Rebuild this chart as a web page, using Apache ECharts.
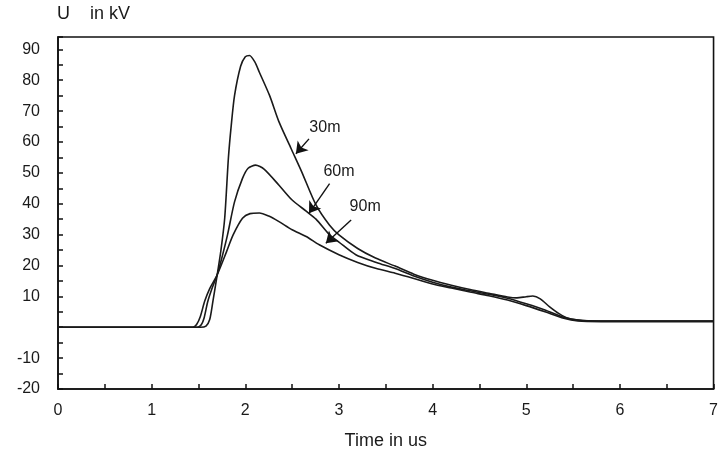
<!DOCTYPE html>
<html>
<head>
<meta charset="utf-8">
<script src="https://cdn.jsdelivr.net/npm/echarts@6/dist/echarts.min.js"></script>
<style>
html, body { margin: 0; padding: 0; background: #fff; }
#main { width: 721px; height: 461px; }
</style>
</head>
<body>
<div id="main"></div>
<script>
// 电压波形 (30m / 60m / 90m), [time us, U kV]
var wave30m = [
	[0, 0], [1.52, 0], [1.58, 0.4], [1.62, 2.5], [1.654, 8.4], [1.7, 17], [1.74, 25], [1.78, 35.3],
	[1.82, 55], [1.85, 65.4], [1.885, 75], [1.95, 84.5], [2.0, 87.6], [2.045, 88], [2.1, 86],
	[2.15, 82.6], [2.26, 75], [2.36, 66.5], [2.49, 57.8], [2.6, 50.5], [2.755, 39.6], [2.9, 33],
	[3.0, 29.9], [3.2, 25.5], [3.39, 22.4], [3.6, 19.8], [3.8, 17.2], [4.0, 15.2], [4.2, 13.6],
	[4.4, 12.2], [4.6, 11], [4.8, 9.8], [4.9, 9.5], [5.0, 9.9], [5.07, 10.1], [5.15, 9.2],
	[5.25, 6.6], [5.35, 4.4], [5.45, 2.9], [5.6, 2.2], [5.8, 2], [7, 2]
];
var wave60m = [
	[0, 0], [1.49, 0], [1.53, 0.8], [1.56, 3], [1.6, 8.4], [1.65, 13], [1.7, 17], [1.75, 22.5],
	[1.81, 29.9], [1.885, 40.6], [1.97, 48.2], [2.03, 51.5], [2.11, 52.5], [2.2, 51.2],
	[2.36, 46], [2.5, 41.2], [2.65, 37.6], [2.755, 35], [2.9, 29.9], [3.0, 27.6], [3.18, 23.5],
	[3.4, 21], [3.6, 19], [3.8, 16.6], [4.0, 14.6], [4.2, 13], [4.4, 11.8], [4.6, 10.7],
	[4.8, 9.4], [5.0, 7.6], [5.2, 5.6], [5.4, 3.2], [5.55, 2.3], [5.8, 2], [7, 2]
];
var wave90m = [
	[0, 0], [1.44, 0], [1.48, 0.9], [1.52, 3.5], [1.566, 8.4], [1.62, 12.5], [1.7, 17],
	[1.8, 24.5], [1.87, 29.9], [1.97, 35.3], [2.05, 36.8], [2.15, 37], [2.25, 36], [2.36, 34.2],
	[2.5, 31.6], [2.65, 29.4], [2.79, 26.7], [3.0, 23.5], [3.2, 21], [3.4, 19], [3.6, 17.5],
	[3.8, 15.8], [4.0, 14], [4.2, 12.7], [4.4, 11.4], [4.6, 10.2], [4.8, 8.8], [5.0, 7],
	[5.2, 5], [5.4, 2.9], [5.55, 2], [5.8, 1.8], [7, 1.8]
];

// 标注: 文字 + 箭头
var noteText = ['30m', '60m', '90m'];
var notePos = [[2.85, 64.8], [3.0, 50.3], [3.28, 39]];
var arrowFrom = [[2.68, 61], [2.9, 46.5], [3.13, 34.7]];
var arrowTo = [[2.54, 56.2], [2.68, 36.9], [2.86, 27.2]];

// 坐标轴
var xMin = 0, xMax = 7, xStep = 1;
var yMin = -20, yMax = 94, yStep = 10;

var chart = echarts.init(document.getElementById('main'));

var arrowData = [];
for (var i = 0; i < arrowFrom.length; i++) {
	arrowData.push([{ coord: arrowFrom[i] }, { coord: arrowTo[i] }]);
}
var noteData = [];
for (var j = 0; j < notePos.length; j++) {
	noteData.push([notePos[j][0], notePos[j][1], noteText[j]]);
}

function waveSeries(name, data) {
	return {
		name: name,
		type: 'line',
		data: data,
		symbol: 'none',
		smooth: 0.25,
		lineStyle: { color: '#1a1a1a', width: 1.6 },
		z: 3
	};
}

var option = {
	animation: false,
	backgroundColor: '#fff',
	textStyle: { fontFamily: 'Liberation Sans, Arial, sans-serif' },
	title: {
		text: 'U    in kV',
		left: 57,
		top: 5,
		padding: 0,
		textStyle: { fontSize: 18, fontWeight: 'normal', color: '#1a1a1a' }
	},
	grid: {
		left: 58,
		right: 6,
		top: 37,
		bottom: 72,
		show: true,
		borderColor: '#111',
		borderWidth: 1.6
	},
	xAxis: {
		type: 'value',
		min: xMin,
		max: xMax,
		interval: xStep,
		name: 'Time in us',
		nameLocation: 'middle',
		nameGap: 43,
		nameTextStyle: { fontSize: 18, color: '#1a1a1a' },
		axisLine: { onZero: false, lineStyle: { color: '#111', width: 1.6 } },
		axisTick: { inside: true, length: 5, lineStyle: { color: '#111', width: 1.5 } },
		minorTick: { show: true, splitNumber: 2, length: 5, lineStyle: { color: '#111', width: 1.5 } },
		axisLabel: { margin: 14, fontSize: 16, color: '#1a1a1a' },
		splitLine: { show: false }
	},
	yAxis: {
		type: 'value',
		min: yMin,
		max: yMax,
		interval: yStep,
		axisLine: { show: true, onZero: false, lineStyle: { color: '#111', width: 1.6 } },
		axisTick: { show: true, inside: true, length: 5, lineStyle: { color: '#111', width: 1.5 } },
		minorTick: { show: true, splitNumber: 2, length: 5, lineStyle: { color: '#111', width: 1.5 } },
		axisLabel: {
			margin: 18,
			fontSize: 16,
			color: '#1a1a1a',
			formatter: function(v) { return v === 0 ? '' : String(v); }
		},
		splitLine: { show: false }
	},
	series: [
		waveSeries('30m', wave30m),
		waveSeries('60m', wave60m),
		waveSeries('90m', wave90m),
		{
			name: 'notes',
			type: 'scatter',
			data: noteData,
			symbolSize: 1,
			itemStyle: { color: '#fff', opacity: 1 },
			label: {
				show: true,
				position: 'inside',
				fontSize: 16,
				color: '#1a1a1a',
				opacity: 1,
				textBorderWidth: 0,
				formatter: function(p) { return p.value[2]; }
			},
			z: 4
		},
		{
			name: 'arrows',
			type: 'line',
			data: [],
			symbol: 'none',
			itemStyle: { color: '#111' },
			lineStyle: { color: '#111' },
			markLine: {
				silent: true,
				symbol: ['none', 'arrow'],
				symbolSize: 11,
				label: { show: false },
				lineStyle: { color: '#111', width: 1.4, type: 'solid' },
				data: arrowData
			},
			z: 4
		}
	]
};
chart.setOption(option);
</script>
</body>
</html>
